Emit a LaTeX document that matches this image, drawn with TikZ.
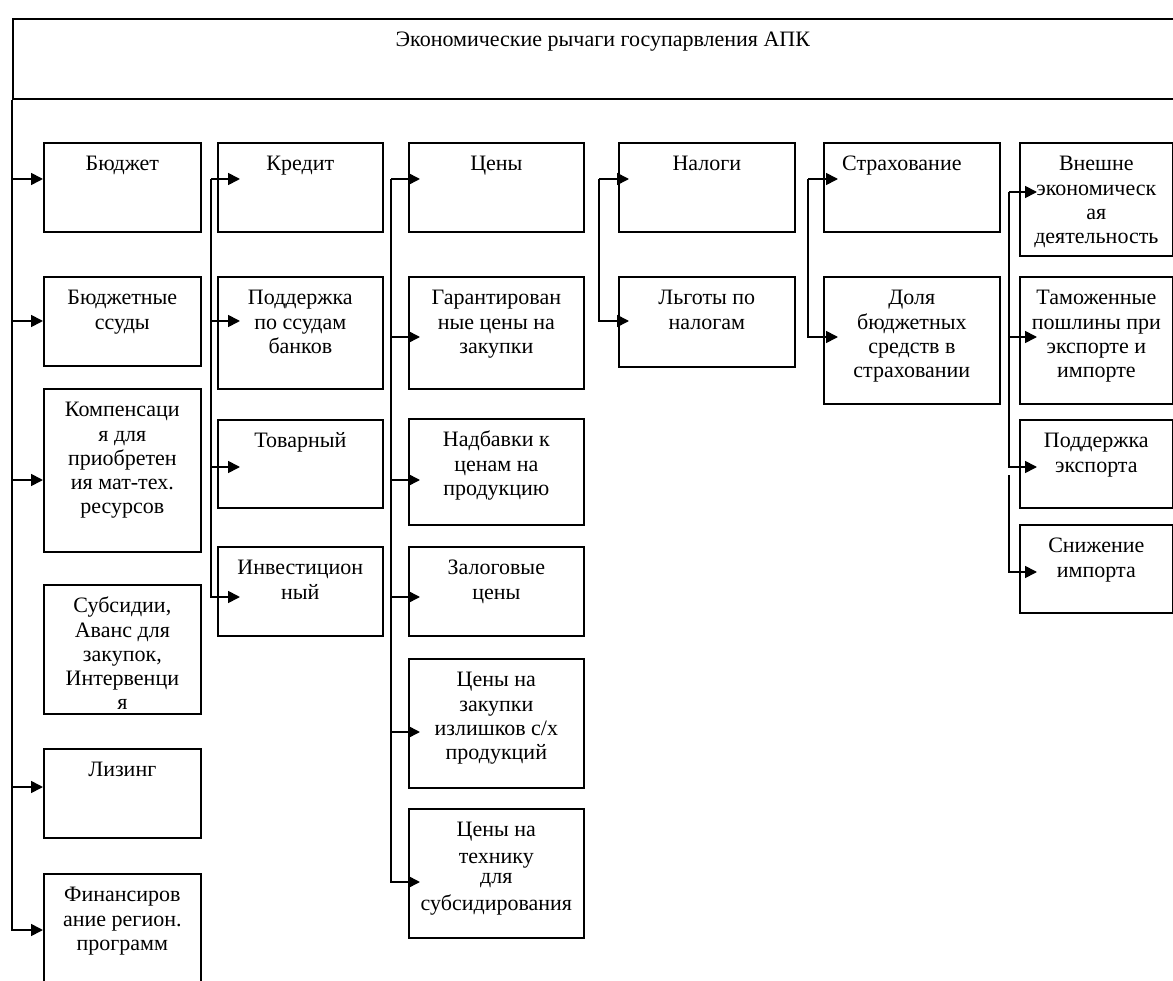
\documentclass[tikz,border=0pt]{standalone}
\usepackage{fontspec}
\setmainfont{Liberation Serif}
\usetikzlibrary{arrows.meta}

% box text: width, height, lines (first baseline 28pt below the top)
\newcommand{\lever}[3]{\parbox[t][#2pt][t]{#1pt}{\centering\rule{0pt}{28pt}#3\par}}

\begin{document}
\begin{tikzpicture}[
		x=1pt, y=-1pt,
		font=\fontsize{22}{24.2}\selectfont,
		cell/.style={draw, line width=1.7pt, anchor=north west, inner sep=0pt},
		feed/.style={line width=1.7pt, -{Triangle[length=12pt,width=12pt]}}
		]
		\useasboundingbox (0,0) rectangle (1173,981);
		\clip (0,0) rectangle (1173,981);
		
		% Title frame
		\node[cell] (head) at (12,18) {\lever{1180}{80}{Экономические рычаги госупарвления АПК}};
		
		% Column 1
		\node[cell] (budget) at (43,142) {\lever{157}{89}{Бюджет}};
		\node[cell] (ssudy) at (43,276) {\lever{157}{89}{Бюджетные\\ссуды}};
		\node[cell] (komp) at (43,388) {\lever{157}{163}{Компенсаци\\я для\\приобретен\\ия мат-тех.\\ресурсов}};
		\node[cell] (subs) at (43,584) {\lever{157}{129}{Субсидии,\\Аванс для\\закупок,\\Интервенци\\я}};
		\node[cell] (lizing) at (43,748) {\lever{157}{89}{Лизинг}};
		\node[cell] (fin) at (43,873) {\lever{157}{127}{Финансиров\\ание регион.\\программ}};
		
		% Column 2
		\node[cell] (kredit) at (217,142) {\lever{165}{89}{Кредит}};
		\node[cell] (podd) at (217,276) {\lever{165}{112}{Поддержка\\по ссудам\\банков}};
		\node[cell] (tovar) at (217,419) {\lever{165}{88}{Товарный}};
		\node[cell] (invest) at (217,546) {\lever{165}{89}{Инвестицион\\ный}};
		
		% Column 3
		\node[cell] (ceny) at (408,142) {\lever{175}{89}{Цены}};
		\node[cell] (garant) at (408,276) {\lever{175}{112}{Гарантирован\\ные цены на\\закупки}};
		\node[cell] (nadb) at (408,418) {\lever{175}{106}{Надбавки к\\ценам на\\продукцию}};
		\node[cell] (zalog) at (408,546) {\lever{175}{89}{Залоговые\\цены}};
		\node[cell] (izlish) at (408,658) {\lever{175}{129}{Цены на\\закупки\\излишков с/х\\продукций}};
		\node[cell] (tehn) at (408,808) {\lever{175}{129}{Цены на\\[2pt]технику\\[-4pt]для\\[3pt]субсидирования}};
		
		% Column 4
		\node[cell] (nalogi) at (618,142) {\lever{176}{89}{Налоги}};
		\node[cell] (lgoty) at (618,276) {\lever{176}{90}{Льготы по\\налогам}};
		
		% Column 5
		\node[cell] (strah) at (823,142) {\lever{176}{89}{Страхование\hspace*{20pt}}};
		\node[cell] (dolya) at (823,276) {\lever{176}{127}{Доля\\бюджетных\\средств в\\страховании}};
		
		% Column 6
		\node[cell] (vnesh) at (1019,142) {\lever{153}{113}{Внешне\\экономическ\\ая\\деятельность}};
		\node[cell] (tamozh) at (1019,276) {\lever{153}{127}{Таможенные\\пошлины при\\экспорте и\\импорте}};
		\node[cell] (eksp) at (1019,419) {\lever{153}{88}{Поддержка\\экспорта}};
		\node[cell] (snizh) at (1019,524) {\lever{153}{88}{Снижение\\импорта}};
		
		% Trunks and arrows
		\draw[feed] (head.south west) |- (fin.west |- 0,930);
		\foreach \n/\y in {budget/179, ssudy/321, komp/480, lizing/787}
		\draw[feed] (head.south west |- 0,\y) -- (\n.west |- 0,\y);
		
		\coordinate (tB) at (211,179);
		\draw[feed, shorten >=-23pt] (tB) |- (invest.west |- 0,597);
		\foreach \n/\y in {kredit/179, podd/321, tovar/467}
		\draw[feed, shorten >=-23pt] (tB |- 0,\y) -- (\n.west |- 0,\y);
		
		\coordinate (tC) at (391,179);
		\draw[feed, shorten >=-12pt] (tC) |- (tehn.west |- 0,882);
		\foreach \n/\y in {ceny/179, garant/337, nadb/480, zalog/597, izlish/732}
		\draw[feed, shorten >=-12pt] (tC |- 0,\y) -- (\n.west |- 0,\y);
		
		\coordinate (tD) at (599,179);
		\draw[feed, shorten >=-11pt] (tD) |- (lgoty.west |- 0,321);
		\draw[feed, shorten >=-11pt] (tD) -- (nalogi.west |- tD);
		
		\coordinate (tE) at (808,179);
		\draw[feed, shorten >=-15pt] (tE) |- (dolya.west |- 0,337);
		\draw[feed, shorten >=-15pt] (tE) -- (strah.west |- tE);
		
		\coordinate (tF) at (1009,192);
		\coordinate (tG) at (1009,475);
		\draw[feed, shorten >=-18pt] (tF) |- (eksp.west |- 0,467);
		\foreach \n/\y in {vnesh/192, tamozh/337}
		\draw[feed, shorten >=-18pt] (tF |- 0,\y) -- (\n.west |- 0,\y);
		\draw[feed, shorten >=-18pt] (tG) |- (snizh.west |- 0,572);
\end{tikzpicture}
\end{document}
